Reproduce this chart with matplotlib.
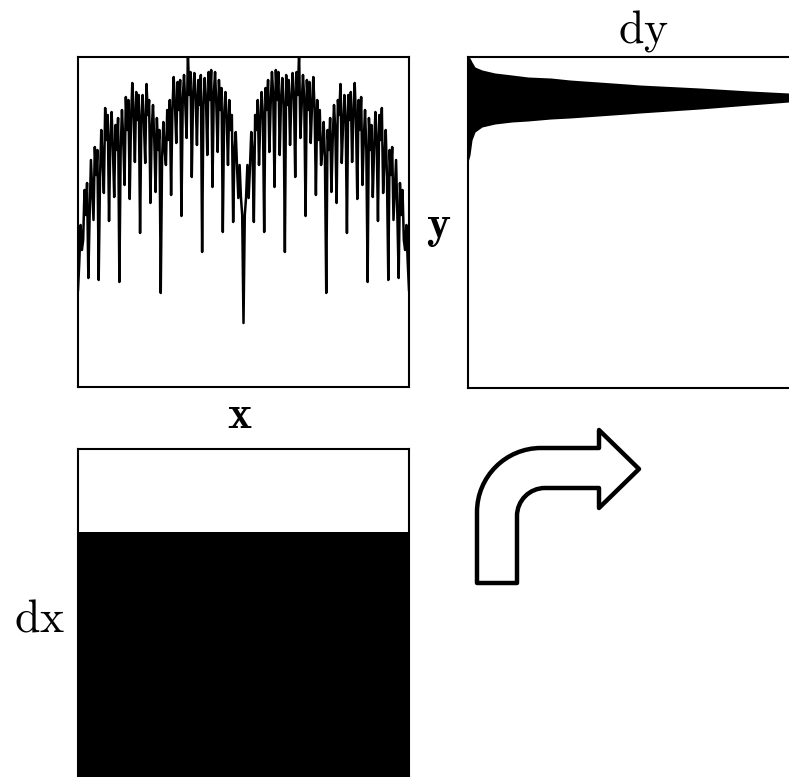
import numpy as np
import matplotlib.pyplot as plt
from matplotlib.path import Path
from matplotlib.patches import PathPatch

plt.rcParams['mathtext.fontset'] = 'cm'

# signal heights, left half (mirrored for right half), 1/256 steps
signal_left = [
    97, 125, 162, 137, 147, 197, 172, 204,
    109, 172, 227, 197, 167, 240, 212, 237,
    107, 207, 257, 227, 194, 279, 247, 272,
    166, 247, 275, 237, 190, 262, 237, 269,
    105, 237, 277, 247, 202, 290, 257, 287,
    188, 267, 304, 272, 225, 295, 267, 292,
    154, 269, 292, 262, 224, 303, 272, 287,
    184, 257, 282, 247, 195, 269, 237, 257,
    94, 227, 265, 237, 222, 277, 247, 287,
    192, 277, 310, 282, 244, 305, 277, 307,
    171, 287, 312, 282, 249, 335, 292, 315,
    210, 292, 314, 287, 242, 307, 282, 312,
    135, 282, 309, 287, 232, 315, 287, 317,
    200, 292, 315, 282, 235, 307, 277, 299,
    155, 272, 295, 267, 222, 287, 257, 272,
    165, 235, 255, 220, 189, 222, 190, 172,
]
signal_center = 64

# dy band (horizontal position, upper and lower edge)
dy_pos = [0, 2, 4, 7, 14, 27, 44, 60, 83, 102, 159, 172, 232, 282, 321, 345]
dy_upper = [331, 330, 326, 321, 318, 315, 313, 311, 310, 308, 304, 303, 300, 297, 295, 293]
dy_lower = [226, 233, 248, 256, 261, 264, 266, 267, 269, 270, 274, 275, 279, 283, 286, 289]

# dx level
dx_pos = [0, 331]
dx_level = [247, 247]

# bent arrow outline (figure pixels)
arrow_verts = [(477, 583), (477, 512), (477, 476.7), (505.7, 448), (541, 448),
               (599, 448), (599, 430), (639, 469), (599, 508), (599, 488),
               (545, 488), (529.5, 488), (517, 500.5), (517, 516),
               (517, 583), (477, 583)]
arrow_codes = [Path.MOVETO, Path.LINETO, Path.CURVE4, Path.CURVE4, Path.CURVE4,
               Path.LINETO, Path.LINETO, Path.LINETO, Path.LINETO, Path.LINETO,
               Path.LINETO, Path.CURVE4, Path.CURVE4, Path.CURVE4,
               Path.LINETO, Path.CLOSEPOLY]

W, H = 789, 777
fig = plt.figure(figsize=(W / 100, H / 100), dpi=100)

def box(left, top, w, h):
    return [left / W, 1 - (top + h) / H, w / W, h / H]

# top-left: signal
ax1 = fig.add_axes(box(78, 57, 331, 330))
sig = np.array(signal_left + [signal_center] + signal_left[::-1])
xs = np.arange(len(sig)) / (len(sig) - 1)
ax1.plot(xs, sig, color='black', lw=1.8)
ax1.set_xlim(0, 1)
ax1.set_ylim(0, 330)

# top-right: dy
ax2 = fig.add_axes(box(468, 57, 345, 331))
ax2.fill_between(dy_pos, dy_lower, dy_upper, color='black', lw=0)
ax2.set_xlim(0, 345)
ax2.set_ylim(0, 331)
ax2.spines['right'].set_visible(False)

# bottom-left: dx
ax3 = fig.add_axes(box(78, 449, 331, 330))
ax3.fill_between(dx_pos, 0, dx_level, color='black', lw=0)
ax3.set_xlim(0, 331)
ax3.set_ylim(0, 330)
ax3.spines['bottom'].set_visible(False)

for ax in (ax1, ax2, ax3):
    ax.set_xticks([])
    ax.set_yticks([])
    for s in ax.spines.values():
        s.set_linewidth(1.5)

# arrow
ax0 = fig.add_axes([0, 0, 1, 1], zorder=-1)
ax0.set_xlim(0, W)
ax0.set_ylim(H, 0)
ax0.axis('off')
ax0.add_patch(PathPatch(Path(arrow_verts, arrow_codes), facecolor='white',
                        edgecolor='black', lw=3.2, joinstyle='round'))

fs = 33
fig.text(643 / W, 1 - 43 / H, r'$\mathrm{dy}$', fontsize=fs, ha='center', va='baseline')
fig.text(439 / W, 1 - 238 / H, r'$\mathbf{y}$', fontsize=fs, ha='center', va='baseline')
fig.text(240 / W, 1 - 428 / H, r'$\mathbf{x}$', fontsize=fs, ha='center', va='baseline')
fig.text(40 / W, 1 - 631 / H, r'$\mathrm{dx}$', fontsize=fs, ha='center', va='baseline')

plt.savefig('out.png', dpi=100)
